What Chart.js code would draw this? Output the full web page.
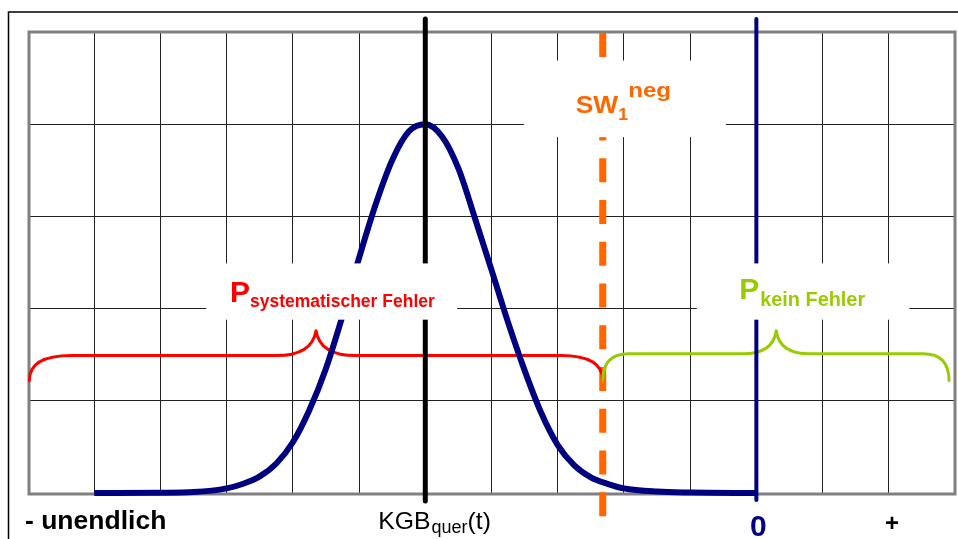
<!DOCTYPE html>
<html>
<head>
<meta charset="utf-8">
<script src="https://cdn.jsdelivr.net/npm/chart.js@4/dist/chart.umd.min.js"></script>
<style>
  html, body { margin: 0; padding: 0; background: #fff; }
  #wrap { width: 958px; height: 539px; position: relative; }
</style>
</head>
<body>
<div id="wrap"><canvas id="c" width="958" height="539"></canvas></div>
<script>
// Density curve of KGB_quer(t)
const curveX = [1, 2, 2.5, 3, 3.25, 3.5, 3.75, 4, 4.25, 4.5, 4.75, 5, 5.25, 5.5, 5.75, 6,
                6.25, 6.5, 6.75, 7, 7.25, 7.5, 7.75, 8, 8.25, 8.5, 8.75, 9, 9.5, 10, 11];
const curveY = [0, 0.003, 0.01, 0.05, 0.10, 0.18, 0.32, 0.55, 0.90, 1.35, 1.92, 2.55, 3.13, 3.61, 3.92, 4,
                3.87, 3.52, 2.98, 2.42, 1.85, 1.33, 0.87, 0.52, 0.30, 0.17, 0.10, 0.05, 0.015, 0.005, 0];

// Reference positions on the axis
const kgbX = 6;      // KGB_quer(t)
const swX = 8.68;    // SW_1^neg
const zeroX = 11;    // 0

// Braces: P systematischer Fehler, P kein Fehler
const braceFrom = [0.02, 8.68];
const braceTip = [4.35, 11.3];
const braceTo = [8.68, 13.91];
const braceLevel = [1.49, 1.51];
const braceEndY = 1.22;
const braceTipY = 1.76;

// Axis ranges
const xRange = [0, 14];
const yRange = [0, 5];

const FONT = '"Liberation Sans", Arial, Helvetica, sans-serif';

// draws text, optionally stretched horizontally; returns the advance
function txt(ctx, s, x, y, size, weight, color, align, sx) {
  sx = sx || 1;
  ctx.save();
  ctx.font = weight + ' ' + size + 'px ' + FONT;
  ctx.fillStyle = color;
  ctx.textAlign = align || 'left';
  ctx.textBaseline = 'alphabetic';
  ctx.translate(x, y);
  ctx.scale(sx, 1);
  ctx.fillText(s, 0, 0);
  const w = ctx.measureText(s).width * sx;
  ctx.restore();
  return w;
}

function drawBrace(ctx, c, i, color, endW, tipW) {
  const X = v => c.scales.x.getPixelForValue(v);
  const Y = v => c.scales.y.getPixelForValue(v);
  const x0 = X(braceFrom[i]), x1 = X(braceTo[i]), xt = X(braceTip[i]);
  const yl = Y(braceLevel[i]), ye = Y(braceEndY), yt = Y(braceTipY);
  ctx.save();
  ctx.strokeStyle = color;
  ctx.lineWidth = 3;
  ctx.lineCap = 'round';
  ctx.lineJoin = 'round';
  ctx.beginPath();
  ctx.moveTo(x0, ye);
  ctx.quadraticCurveTo(x0, yl, x0 + endW, yl);
  ctx.lineTo(xt - tipW, yl);
  ctx.quadraticCurveTo(xt - tipW * 0.1, yl, xt, yt);
  ctx.quadraticCurveTo(xt + tipW * 0.1, yl, xt + tipW, yl);
  ctx.lineTo(x1 - endW, yl);
  ctx.quadraticCurveTo(x1, yl, x1, ye);
  ctx.stroke();
  ctx.restore();
}

function vline(ctx, c, v, color, width, top, bottom, dash, cap) {
  const x = c.scales.x.getPixelForValue(v);
  ctx.save();
  ctx.strokeStyle = color;
  ctx.lineWidth = width;
  ctx.lineCap = cap;
  if (dash) ctx.setLineDash(dash);
  ctx.beginPath();
  ctx.moveTo(x, top);
  ctx.lineTo(x, bottom);
  ctx.stroke();
  ctx.restore();
}

const decor = {
  id: 'decor',
  beforeDraw(c) {
    const ctx = c.ctx;
    ctx.save();
    ctx.fillStyle = '#fff';
    ctx.fillRect(0, 0, c.width, c.height);
    // outer frame
    ctx.strokeStyle = '#000';
    ctx.lineWidth = 1.5;
    ctx.beginPath();
    ctx.moveTo(c.width, 12);
    ctx.lineTo(8.5, 12);
    ctx.lineTo(8.5, c.height);
    ctx.stroke();
    ctx.restore();
  },
  beforeDatasetsDraw(c) {
    const ctx = c.ctx, a = c.chartArea;
    ctx.save();
    ctx.strokeStyle = '#808080';
    ctx.lineWidth = 3;
    ctx.strokeRect(a.left + 1, a.top, a.right - a.left - 1, a.bottom - a.top + 1);
    ctx.restore();
  },
  beforeDatasetDraw(c) {
    const ctx = c.ctx, a = c.chartArea;
    // threshold line sits beneath the braces and the curve
    vline(ctx, c, swX, '#FF6600', 7, a.top + 1, a.bottom + 24, [24, 17.75], 'butt');
    drawBrace(ctx, c, 0, '#FF0000', 42, 40);
    drawBrace(ctx, c, 1, '#99CC00', 26, 33);
  },
  afterDatasetsDraw(c) {
    const ctx = c.ctx, a = c.chartArea;
    const X = v => c.scales.x.getPixelForValue(v);
    const Y = v => c.scales.y.getPixelForValue(v);
    vline(ctx, c, kgbX, '#000000', 5, a.top - 13, a.bottom + 8, null, 'round');
    vline(ctx, c, zeroX, '#000080', 4, a.top - 13, a.bottom + 7, null, 'round');

    // white label panels
    ctx.save();
    ctx.fillStyle = '#fff';
    [[7.49, 10.54, 4.69, 3.86], [2.69, 6.48, 2.49, 1.88], [10.1, 13.31, 2.49, 1.88]].forEach(b => {
      ctx.fillRect(X(b[0]), Y(b[2]), X(b[1]) - X(b[0]), Y(b[3]) - Y(b[2]));
    });
    ctx.restore();

    // SW_1^neg
    let x = X(swX) - 27, y = Y(4.12);
    x += txt(ctx, 'SW', x, y, 23.5, 'bold', '#FF6600', 'left', 1.12);
    txt(ctx, '1', x, y + 7, 16, 'bold', '#FF6600', 'left', 1.1);
    txt(ctx, 'neg', x + 10, y - 16, 21, 'bold', '#FF6600', 'left', 1.15);

    // P systematischer Fehler
    x = X(3.05); y = Y(2.07);
    x += txt(ctx, 'P', x, y, 30, 'bold', '#FF0000');
    txt(ctx, 'systematischer Fehler', x, y + 5, 17.5, 'bold', '#FF0000');

    // P kein Fehler
    x = X(10.74); y = Y(2.1);
    x += txt(ctx, 'P', x, y, 30, 'bold', '#99CC00');
    txt(ctx, 'kein Fehler', x + 1, y + 7, 19.5, 'bold', '#99CC00', 'left', 1.02);

    // axis captions
    const base = a.bottom + 36;
    txt(ctx, '- unendlich', 25, base, 25, 'bold', '#000', 'left', 1.06);
    x = X(kgbX) - 47;
    x += txt(ctx, 'KGB', x, base, 24, 'normal', '#000', 'left', 1.03);
    x += txt(ctx, 'quer', x + 1, base + 4, 17.5, 'normal', '#000', 'left', 1.03) + 1;
    txt(ctx, '(t)', x, base, 24, 'normal', '#000', 'left', 1.03);
    txt(ctx, '0', X(zeroX) + 2, base + 7, 30, 'bold', '#000080', 'center');
    txt(ctx, '+', 892, base + 2, 24, 'bold', '#000', 'center');
  }
};

new Chart(document.getElementById('c'), {
  type: 'line',
  data: {
    datasets: [{
      label: 'KGB_quer(t)',
      data: curveX.map((x, i) => ({ x: x, y: curveY[i] })),
      borderColor: '#000080',
      borderWidth: 6,
      pointRadius: 0,
      cubicInterpolationMode: 'monotone',
      fill: false,
      clip: false
    }]
  },
  options: {
    responsive: false,
    animation: false,
    devicePixelRatio: 1,
    layout: { padding: { left: 28, top: 32, right: 3, bottom: 46 } },
    plugins: { legend: { display: false }, tooltip: { enabled: false } },
    scales: {
      x: {
        type: 'linear', min: xRange[0], max: xRange[1],
        ticks: { display: false, stepSize: 1 },
        grid: { color: '#222', lineWidth: 1, drawTicks: false },
        border: { display: false }
      },
      y: {
        type: 'linear', min: yRange[0], max: yRange[1],
        ticks: { display: false, stepSize: 1 },
        grid: { color: '#222', lineWidth: 1, drawTicks: false },
        border: { display: false }
      }
    }
  },
  plugins: [decor]
});
</script>
</body>
</html>
